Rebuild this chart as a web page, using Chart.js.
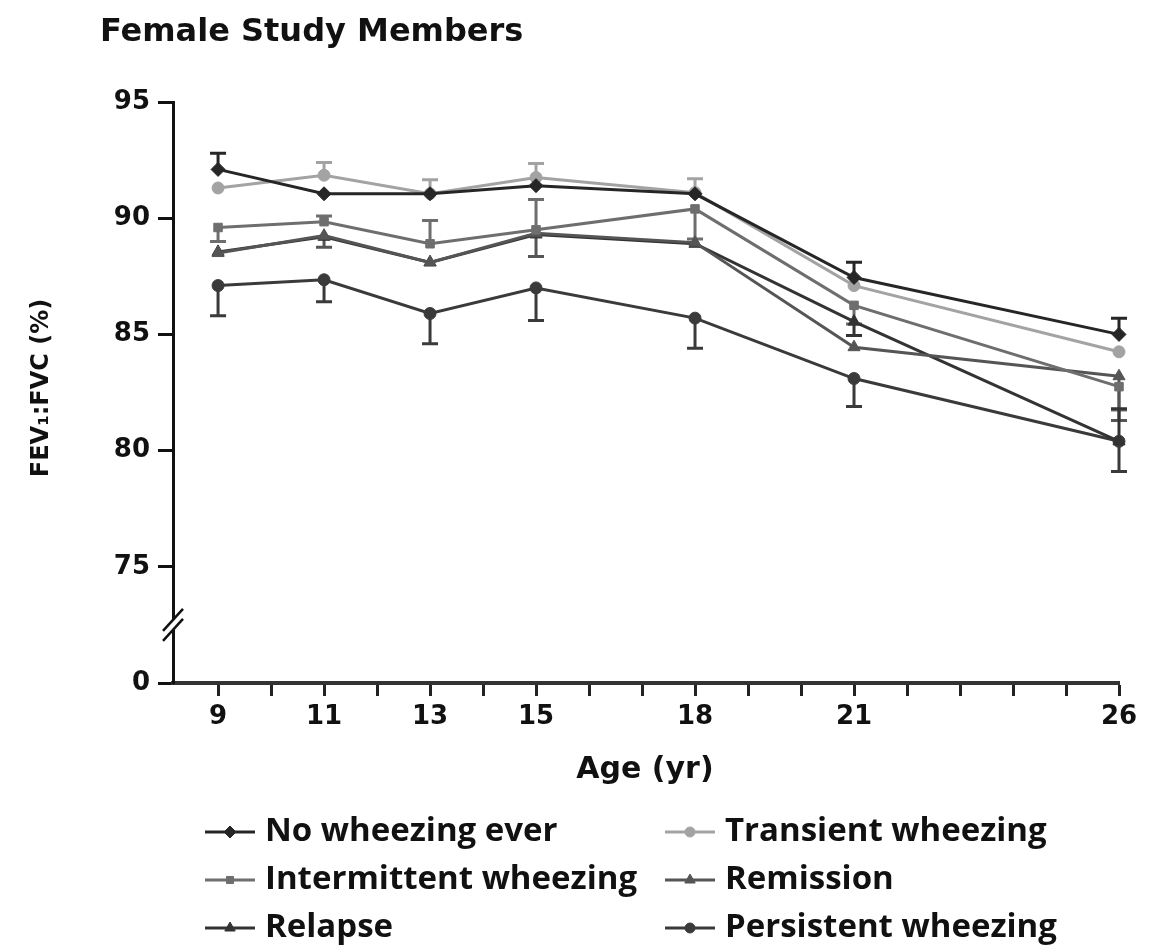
<!DOCTYPE html>
<html>
<head>
<meta charset="utf-8">
<script src="https://cdn.jsdelivr.net/npm/chart.js@4.4.1/dist/chart.umd.min.js"></script>
<style>
  html, body { margin: 0; padding: 0; background: #ffffff; }
  #wrap { width: 1154px; height: 952px; position: relative; }
</style>
</head>
<body>
<div id="wrap"><canvas id="chart" width="1154" height="952"></canvas></div>
<script>
// Ages at which FEV1:FVC was measured
const ages = [9, 11, 13, 15, 18, 21, 26];
const labeledAges = [9, 11, 13, 15, 18, 21, 26];
const minorAges = [9, 10, 11, 12, 13, 14, 15, 16, 17, 18, 19, 20, 21, 22, 23, 24, 25, 26];

// Broken y axis: the bottom position (70) is labelled "0"
const yTickValues = [70, 75, 80, 85, 90, 95];
const yTickLabels = ['0', '75', '80', '85', '90', '95'];

// Mean FEV1:FVC (%) per wheezing group
const noWheezing   = [92.1, 91.05, 91.05, 91.4, 91.05, 87.45, 85.0];
const transient    = [91.3, 91.85, 91.05, 91.75, 91.1, 87.1, 84.25];
const intermittent = [89.6, 89.85, 88.9, 89.5, 90.4, 86.25, 82.75];
const remission    = [88.5, 89.25, 88.1, 89.35, 88.95, 84.45, 83.2];
const relapse      = [88.55, 89.2, 88.1, 89.3, 88.9, 85.55, 80.4];
const persistent   = [87.1, 87.35, 85.9, 87.0, 85.7, 83.1, 80.4];

// Visible standard-error whiskers (0 = not drawn)
const noWheezingErrUp    = [0.7, 0, 0, 0, 0, 0.65, 0.7];
const transientErrUp     = [0, 0.55, 0.6, 0.6, 0.6, 0, 0];
const intermittentErrUp  = [0, 0.25, 1.0, 1.3, 0, 0, 0];
const intermittentErrDn  = [0.6, 0, 0, 0, 1.3, 0.8, 1.0];
const remissionErrDn     = [0, 0.5, 0, 1.0, 0, 0, 1.9];
const relapseErrUp       = [0, 0, 0, 0, 0, 0, 1.4];
const relapseErrDn       = [0, 0, 0, 0, 0, 0.6, 0];
const persistentErrDn    = [1.3, 0.95, 1.3, 1.4, 1.3, 1.2, 1.3];

const seriesNames = ['No wheezing ever', 'Transient wheezing', 'Intermittent wheezing',
                     'Remission', 'Relapse', 'Persistent wheezing'];

const zeros = ages.map(() => 0);

function makeSeries(label, values, color, pointStyle, radius, errUp, errDn) {
  return {
    label,
    data: ages.map((a, i) => ({ x: a, y: values[i] })),
    borderColor: color,
    backgroundColor: color,
    pointBackgroundColor: color,
    pointBorderColor: color,
    pointStyle,
    pointRadius: radius,
    pointBorderWidth: 1,
    borderWidth: 3,
    tension: 0,
    clip: false,
    errUp: errUp || zeros,
    errDn: errDn || zeros
  };
}

const datasets = [
  makeSeries(seriesNames[0], noWheezing,   '#262626', 'rectRot',  7, noWheezingErrUp, null),
  makeSeries(seriesNames[1], transient,    '#a3a3a3', 'circle',   6, transientErrUp, null),
  makeSeries(seriesNames[2], intermittent, '#6e6e6e', 'rect',     6, intermittentErrUp, intermittentErrDn),
  makeSeries(seriesNames[3], remission,    '#555555', 'triangle', 7, null, remissionErrDn),
  makeSeries(seriesNames[4], relapse,      '#333333', 'triangle', 7, relapseErrUp, relapseErrDn),
  makeSeries(seriesNames[5], persistent,   '#3a3a3a', 'circle',   6, null, persistentErrDn)
];

const FONT_BOLD = 'DejaVu Sans';
const FONT_LEGEND = '"Open Sans"';

// Error whiskers, drawn behind the lines
const errorBars = {
  id: 'errorBars',
  beforeDatasetsDraw(chart) {
    const { ctx, scales: { x, y } } = chart;
    ctx.save();
    ctx.lineWidth = 3;
    chart.data.datasets.forEach(ds => {
      ctx.strokeStyle = ds.borderColor;
      ds.data.forEach((pt, i) => {
        const px = x.getPixelForValue(pt.x);
        const py = y.getPixelForValue(pt.y);
        [[ds.errUp[i], 1], [ds.errDn[i], -1]].forEach(([e, dir]) => {
          if (!e) return;
          const ey = y.getPixelForValue(pt.y + dir * e);
          ctx.beginPath();
          ctx.moveTo(px, py);
          ctx.lineTo(px, ey);
          ctx.moveTo(px - 8, ey);
          ctx.lineTo(px + 8, ey);
          ctx.stroke();
        });
      });
    });
    ctx.restore();
  }
};

// Titles, axis break and the two-column legend
const decorations = {
  id: 'decorations',
  afterDraw(chart) {
    const { ctx, scales: { y } } = chart;
    ctx.save();
    ctx.fillStyle = '#111';

    // Chart title
    ctx.font = 'bold 32px ' + FONT_BOLD;
    ctx.textAlign = 'left';
    ctx.textBaseline = 'middle';
    ctx.fillText('Female Study Members', 100, 33);

    // x axis title
    ctx.font = 'bold 30px ' + FONT_BOLD;
    ctx.textAlign = 'center';
    ctx.fillText('Age (yr)', 645, 770);

    // y axis title
    ctx.save();
    ctx.translate(42, 388);
    ctx.rotate(-Math.PI / 2);
    ctx.font = 'bold 24px ' + FONT_BOLD;
    ctx.fillText('FEV\u2081:FVC (%)', 0, 0);
    ctx.restore();

    // Axis break marks on the y axis
    const ax = y.right;
    const by = y.getPixelForValue(72.5);
    ctx.fillStyle = '#ffffff';
    ctx.fillRect(ax - 4, by - 5, 8, 10);
    ctx.strokeStyle = '#111';
    ctx.lineWidth = 2.5;
    [-5, 5].forEach(off => {
      ctx.beginPath();
      ctx.moveTo(ax - 10, by + off + 11);
      ctx.lineTo(ax + 10, by + off - 11);
      ctx.stroke();
    });

    // Legend: line sample with marker, then the series name
    const cols = [205, 665];
    const rows = [832, 880, 928];
    ctx.textAlign = 'left';
    ctx.textBaseline = 'middle';
    chart.data.datasets.forEach((ds, i) => {
      const lx = cols[i % 2];
      const ly = rows[Math.floor(i / 2)];
      ctx.strokeStyle = ds.borderColor;
      ctx.fillStyle = ds.borderColor;
      ctx.lineWidth = 3;
      ctx.beginPath();
      ctx.moveTo(lx, ly);
      ctx.lineTo(lx + 50, ly);
      ctx.stroke();
      ctx.lineWidth = 1;
      Chart.helpers.drawPoint(ctx, {
        pointStyle: ds.pointStyle,
        radius: ds.pointRadius - 1,
        borderWidth: 1
      }, lx + 25, ly);
      ctx.font = 'bold 33px ' + FONT_LEGEND;
      ctx.fillStyle = '#111';
      ctx.fillText(ds.label, lx + 60, ly);
    });
    ctx.restore();
  }
};

new Chart(document.getElementById('chart'), {
  type: 'line',
  data: { datasets },
  options: {
    responsive: false,
    animation: false,
    devicePixelRatio: 1,
    layout: { padding: { left: 0, top: 102, right: 35, bottom: 0 }, autoPadding: false },
    plugins: { legend: { display: false }, tooltip: { enabled: false } },
    scales: {
      x: {
        type: 'linear',
        min: 8.15,
        max: 26,
        afterBuildTicks: s => { s.ticks = minorAges.map(v => ({ value: v })); },
        afterFit: s => { s.height = 952 - 683; },
        ticks: {
          autoSkip: false,
          maxRotation: 0,
          padding: 6,
          color: '#111',
          font: { family: FONT_BOLD, size: 26, weight: 'bold' },
          callback: v => labeledAges.includes(v) ? String(v) : ''
        },
        grid: { drawOnChartArea: false, drawTicks: true, tickLength: 13, tickWidth: 3, tickColor: '#222' },
        border: { display: true, color: '#333', width: 4 }
      },
      y: {
        type: 'linear',
        min: 70,
        max: 95,
        afterBuildTicks: s => { s.ticks = yTickValues.map(v => ({ value: v })); },
        afterFit: s => { s.width = 173; },
        ticks: {
          padding: 8,
          color: '#111',
          font: { family: FONT_BOLD, size: 26, weight: 'bold' },
          callback: v => yTickLabels[yTickValues.indexOf(v)]
        },
        grid: { drawOnChartArea: false, drawTicks: true, tickLength: 15, tickWidth: 3, tickColor: '#111' },
        border: { display: true, color: '#111', width: 3 }
      }
    }
  },
  plugins: [errorBars, decorations]
});
</script>
</body>
</html>
